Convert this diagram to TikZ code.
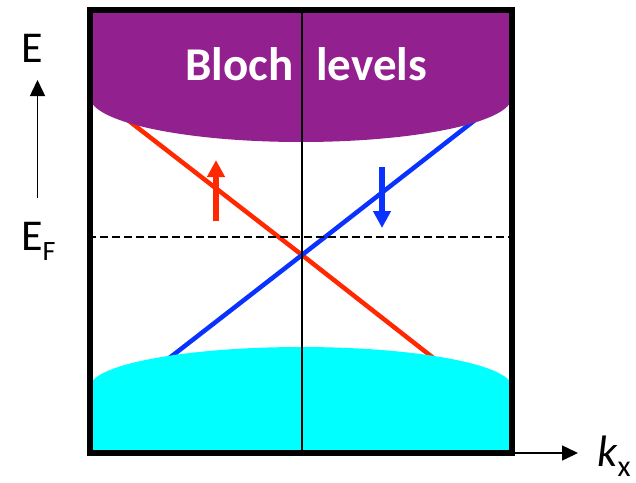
\documentclass[tikz,border=0pt]{standalone}
\usepackage{fontspec}
\setmainfont{Carlito}
\usetikzlibrary{arrows.meta}
\definecolor{blochpurple}{RGB}{146,32,142}
\definecolor{bandcyan}{RGB}{0,255,255}
\definecolor{spinred}{RGB}{255,40,0}
\definecolor{spinblue}{RGB}{10,50,255}
\tikzset{
  axis/.style={line width=1.5pt, -{Triangle[length=16pt, width=15pt]}},
  band/.style={line width=4.5pt},
  spin/.style={line width=6pt, -{Triangle[length=17pt, width=17pt]}},
  label/.style={inner sep=0pt, font=\fontsize{44}{48}\selectfont}
}
\begin{document}
\begin{tikzpicture}[x=1pt, y=-1pt]
\useasboundingbox[fill=white] (0,0) rectangle (636,482);
% box corners and the crossing point
\coordinate (tl) at (90,10);
\coordinate (br) at (512,453);
\coordinate (X) at (302,255);
% bands
\draw[band, spinred] (120,114) -- (X) -- (450,371);
\draw[band, spinblue] (150,373) -- (X) -- (484,113);
% Bloch levels on top, filled band below
\fill[blochpurple] (90,10) -- (512,10) -- (512,97)
	arc [start angle=0, end angle=-180, x radius=211pt, y radius=45pt] -- cycle;
\fill[bandcyan] (90,453) -- (90,387)
	arc [start angle=180, end angle=0, x radius=211pt, y radius=40pt] -- (512,453) -- cycle;
\draw[line width=1.5pt] (302,10) -- (302,453);
\draw[line width=1.5pt, dash pattern=on 8pt off 4pt] (88,237) -- (512,237);
\draw[line width=5.5pt] (tl) rectangle (br);
\node[anchor=base west, inner sep=0pt, text=white, font=\fontsize{47}{50}\selectfont\bfseries]
	(bloch) at (185,80) {Bloch\hspace{23pt}levels};
% spins
\coordinate (up0) at (216,221);
\coordinate (up1) at (216,160);
\coordinate (dn0) at (382,167);
\coordinate (dn1) at (382,228);
\draw[spin, spinred] (up0) -- (up1);
\draw[spin, spinblue] (dn0) -- (dn1);
% axes
\node[label, anchor=base west] (E) at (21,62) {E};
\node[label, anchor=base west] (EF) at (21,250) {E\raisebox{-10pt}{\fontsize{28}{30}\selectfont F}};
\node[label, anchor=base west] (kx) at (597,466) {\textit{k}\raisebox{-10pt}{\fontsize{30}{32}\selectfont x}};
\coordinate (e0) at (37.5,198);
\coordinate (e1) at (37.5,80);
\coordinate (k0) at (512,453);
\coordinate (k1) at (578,453);
\draw[axis] (e0) -- (e1);
\draw[axis] (k0) -- (k1);
\end{tikzpicture}
\end{document}
